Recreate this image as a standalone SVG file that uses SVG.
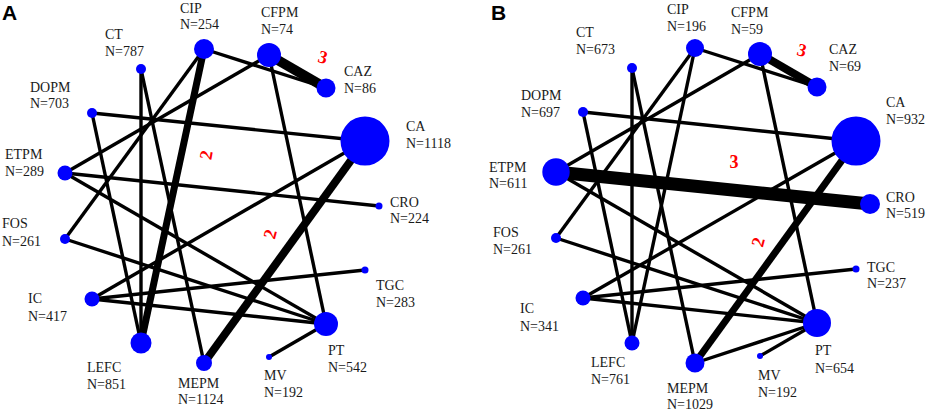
<svg xmlns="http://www.w3.org/2000/svg" width="927" height="412" viewBox="0 0 927 412">
<style>
.e{stroke:#000;stroke-width:3.4;fill:none}
.n{fill:#0000ff}
.t{font-family:"Liberation Serif","Times New Roman",serif;font-size:14px;fill:#1a1a1a}
.w{font-family:"Liberation Serif","Times New Roman",serif;font-size:18px;font-weight:bold;fill:#ff0000;text-anchor:middle;dominant-baseline:central}
.p{font-family:"Liberation Sans",Arial,sans-serif;font-size:21px;font-weight:bold;fill:#000}
</style>
<rect width="927" height="412" fill="#fff"/>
<text class="p" x="2" y="20">A</text>
<text class="p" x="491" y="20">B</text>
<g id="connectors-A">
<line class="e" x1="204" y1="49" x2="141" y2="343" style="stroke-width:7"/>
<line class="e" x1="204" y1="49" x2="65" y2="239"/>
<line class="e" x1="204" y1="49" x2="326" y2="88"/>
<line class="e" x1="141" y1="69" x2="141" y2="343"/>
<line class="e" x1="141" y1="69" x2="204" y2="363"/>
<line class="e" x1="269" y1="55" x2="326" y2="88" style="stroke-width:10"/>
<line class="e" x1="269" y1="55" x2="65" y2="173"/>
<line class="e" x1="269" y1="55" x2="326" y2="324"/>
<line class="e" x1="92" y1="113" x2="365" y2="141"/>
<line class="e" x1="92" y1="113" x2="141" y2="343"/>
<line class="e" x1="65" y1="173" x2="379" y2="206"/>
<line class="e" x1="65" y1="173" x2="326" y2="324"/>
<line class="e" x1="65" y1="239" x2="326" y2="324"/>
<line class="e" x1="92" y1="299" x2="365" y2="141"/>
<line class="e" x1="92" y1="299" x2="365" y2="270"/>
<line class="e" x1="92" y1="299" x2="326" y2="324"/>
<line class="e" x1="204" y1="363" x2="365" y2="141" style="stroke-width:8"/>
<line class="e" x1="269" y1="357" x2="326" y2="324"/>
<text class="w" x="323" y="57" transform="rotate(15 323 57)">3</text>
<text class="w" x="206" y="155" transform="rotate(-80 206 155)">2</text>
<text class="w" x="270" y="234" transform="rotate(-75 270 234)">2</text>
</g>
<g id="connectors-B">
<line class="e" x1="695" y1="48" x2="632" y2="343"/>
<line class="e" x1="695" y1="48" x2="556" y2="238"/>
<line class="e" x1="695" y1="48" x2="817" y2="87"/>
<line class="e" x1="632" y1="68" x2="632" y2="343"/>
<line class="e" x1="632" y1="68" x2="695" y2="363"/>
<line class="e" x1="760" y1="54" x2="817" y2="87" style="stroke-width:8"/>
<line class="e" x1="760" y1="54" x2="556" y2="172"/>
<line class="e" x1="760" y1="54" x2="817" y2="323"/>
<line class="e" x1="583" y1="112" x2="856" y2="141"/>
<line class="e" x1="583" y1="112" x2="632" y2="343"/>
<line class="e" x1="556" y1="172" x2="870" y2="204" style="stroke-width:13"/>
<line class="e" x1="556" y1="172" x2="817" y2="323"/>
<line class="e" x1="556" y1="238" x2="817" y2="323"/>
<line class="e" x1="583" y1="298" x2="856" y2="141"/>
<line class="e" x1="583" y1="298" x2="856" y2="269"/>
<line class="e" x1="583" y1="298" x2="817" y2="323"/>
<line class="e" x1="695" y1="363" x2="856" y2="141" style="stroke-width:7"/>
<line class="e" x1="760" y1="356" x2="817" y2="323"/>
<line class="e" x1="695" y1="363" x2="817" y2="323"/>
<text class="w" x="802" y="50" transform="rotate(15 802 50)">3</text>
<text class="w" x="734" y="162">3</text>
<text class="w" x="758" y="242" transform="rotate(-75 758 242)">2</text>
</g>
<g id="A-CIP"><circle class="n" cx="204" cy="49" r="10"/><text class="t" x="180" y="13">CIP</text><text class="t" x="180" y="29">N=254</text></g>
<g id="A-CT"><circle class="n" cx="141" cy="69" r="5"/><text class="t" x="105" y="39">CT</text><text class="t" x="105" y="56">N=787</text></g>
<g id="A-CFPM"><circle class="n" cx="269" cy="55" r="12"/><text class="t" x="261" y="17">CFPM</text><text class="t" x="261" y="34">N=74</text></g>
<g id="A-CAZ"><circle class="n" cx="326" cy="88" r="9.5"/><text class="t" x="344" y="76">CAZ</text><text class="t" x="344" y="93">N=86</text></g>
<g id="A-CA"><circle class="n" cx="365" cy="141" r="24.5"/><text class="t" x="406" y="131">CA</text><text class="t" x="406" y="148">N=1118</text></g>
<g id="A-DOPM"><circle class="n" cx="92" cy="113" r="5"/><text class="t" x="30" y="92">DOPM</text><text class="t" x="30" y="108">N=703</text></g>
<g id="A-ETPM"><circle class="n" cx="65" cy="173" r="7.5"/><text class="t" x="5" y="159">ETPM</text><text class="t" x="5" y="176">N=289</text></g>
<g id="A-CRO"><circle class="n" cx="379" cy="206" r="3.5"/><text class="t" x="390" y="207">CRO</text><text class="t" x="390" y="223">N=224</text></g>
<g id="A-FOS"><circle class="n" cx="65" cy="239" r="5"/><text class="t" x="2" y="228">FOS</text><text class="t" x="2" y="246">N=261</text></g>
<g id="A-TGC"><circle class="n" cx="365" cy="270" r="3.5"/><text class="t" x="376" y="290">TGC</text><text class="t" x="376" y="307">N=283</text></g>
<g id="A-IC"><circle class="n" cx="92" cy="299" r="7.5"/><text class="t" x="28" y="303">IC</text><text class="t" x="28" y="321">N=417</text></g>
<g id="A-PT"><circle class="n" cx="326" cy="324" r="12"/><text class="t" x="328" y="355">PT</text><text class="t" x="328" y="372">N=542</text></g>
<g id="A-LEFC"><circle class="n" cx="141" cy="343" r="10.5"/><text class="t" x="87" y="372">LEFC</text><text class="t" x="87" y="389">N=851</text></g>
<g id="A-MEPM"><circle class="n" cx="204" cy="363" r="8"/><text class="t" x="178" y="388">MEPM</text><text class="t" x="178" y="404">N=1124</text></g>
<g id="A-MV"><circle class="n" cx="269" cy="357" r="3"/><text class="t" x="264" y="380">MV</text><text class="t" x="264" y="397">N=192</text></g>
<g id="B-CIP"><circle class="n" cx="695" cy="48" r="9"/><text class="t" x="667" y="14">CIP</text><text class="t" x="667" y="31">N=196</text></g>
<g id="B-CT"><circle class="n" cx="632" cy="68" r="5"/><text class="t" x="576" y="37">CT</text><text class="t" x="576" y="54">N=673</text></g>
<g id="B-CFPM"><circle class="n" cx="760" cy="54" r="12"/><text class="t" x="731" y="17">CFPM</text><text class="t" x="731" y="34">N=59</text></g>
<g id="B-CAZ"><circle class="n" cx="817" cy="87" r="9.5"/><text class="t" x="829" y="54">CAZ</text><text class="t" x="829" y="71">N=69</text></g>
<g id="B-CA"><circle class="n" cx="856" cy="141" r="24.5"/><text class="t" x="886" y="107">CA</text><text class="t" x="886" y="124">N=932</text></g>
<g id="B-DOPM"><circle class="n" cx="583" cy="112" r="5"/><text class="t" x="521" y="100">DOPM</text><text class="t" x="521" y="117">N=697</text></g>
<g id="B-ETPM"><circle class="n" cx="556" cy="172" r="13.7"/><text class="t" x="489" y="172">ETPM</text><text class="t" x="489" y="188">N=611</text></g>
<g id="B-CRO"><circle class="n" cx="870" cy="204" r="10"/><text class="t" x="886" y="202">CRO</text><text class="t" x="886" y="218">N=519</text></g>
<g id="B-FOS"><circle class="n" cx="556" cy="238" r="5"/><text class="t" x="493" y="237">FOS</text><text class="t" x="493" y="254">N=261</text></g>
<g id="B-TGC"><circle class="n" cx="856" cy="269" r="3.5"/><text class="t" x="867" y="272">TGC</text><text class="t" x="867" y="288">N=237</text></g>
<g id="B-IC"><circle class="n" cx="583" cy="298" r="7.5"/><text class="t" x="520" y="313">IC</text><text class="t" x="520" y="331">N=341</text></g>
<g id="B-PT"><circle class="n" cx="817" cy="323" r="14"/><text class="t" x="815" y="355">PT</text><text class="t" x="815" y="373">N=654</text></g>
<g id="B-LEFC"><circle class="n" cx="632" cy="343" r="7.5"/><text class="t" x="591" y="367">LEFC</text><text class="t" x="591" y="384">N=761</text></g>
<g id="B-MEPM"><circle class="n" cx="695" cy="363" r="9.5"/><text class="t" x="667" y="393">MEPM</text><text class="t" x="667" y="409">N=1029</text></g>
<g id="B-MV"><circle class="n" cx="760" cy="356" r="3"/><text class="t" x="758" y="380">MV</text><text class="t" x="758" y="397">N=192</text></g>
</svg>
